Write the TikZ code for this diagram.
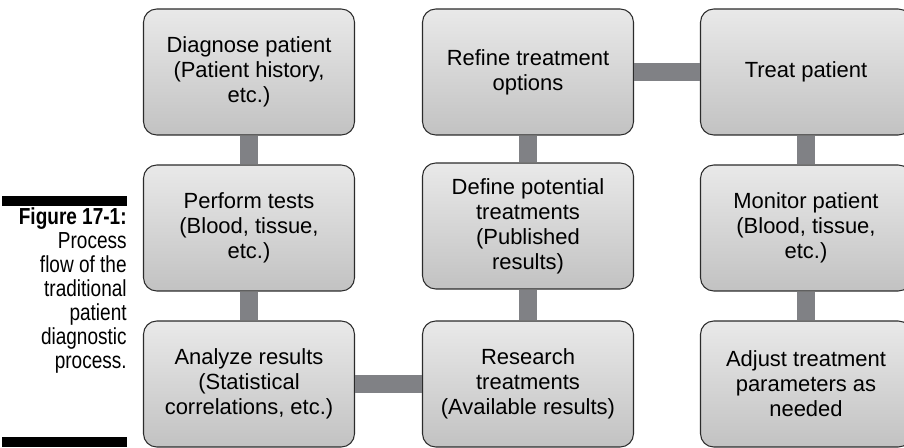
\documentclass[tikz,border=0pt]{standalone}
\usepackage{fontspec}
\setmainfont{Liberation Sans}
\newfontfamily\capfont[FakeStretch=0.82]{Liberation Sans}
\definecolor{linkgray}{HTML}{808185}
\definecolor{boxtop}{HTML}{E9E9E9}
\definecolor{boxbottom}{HTML}{C2C2C2}
\definecolor{boxline}{HTML}{2B2B2B}

\begin{document}
\begin{tikzpicture}[x=0.02cm,y=-0.02cm,
    stage/.style={draw=boxline,line width=0.6pt,rounded corners=7.5pt,
      top color=boxtop,bottom color=boxbottom,
      minimum width=4.22cm,minimum height=2.52cm,inner sep=0pt,
      align=center,font=\fontsize{12.5}{14.2}\selectfont},
    link/.style={linkgray,line width=10.2pt}]
                \useasboundingbox (0,0) rectangle (904,447);
                \clip (0,0) rectangle (904,447);
                % caption on the left
                \fill (2,196) rectangle (127,206);
                \fill (2,437) rectangle (127,447);
                \node[anchor=east,align=right,inner sep=0pt,font=\capfont\fontsize{13.2}{13.66}\selectfont] (caption) at (127,290) {\textbf{Figure 17-1:}\\Process\\flow of the\\traditional\\patient\\diagnostic\\process.};
                % process steps
                \node[stage] (diagnose) at (249,72) {Diagnose patient\\(Patient history,\\etc.)};
                \node[stage] (perform) at (249,228) {Perform tests\\(Blood, tissue,\\etc.)};
                \node[stage] (analyze) at (249,384) {Analyze results\\(Statistical\\correlations, etc.)};
                \node[stage] (research) at (528,384) {Research\\treatments\\(Available results)};
                \node[stage] (define) at (528,226) {Define potential\\treatments\\(Published\\results)};
                \node[stage] (refine) at (528,72) {Refine treatment\\options};
                \node[stage] (treat) at (806,72) {Treat patient};
                \node[stage] (monitor) at (806,228) {Monitor patient\\(Blood, tissue,\\etc.)};
                \node[stage] (adjust) at (806,384) {Adjust treatment\\parameters as\\needed};
                % links
                \draw[link] (diagnose) -- (perform);
                \draw[link] (perform) -- (analyze);
                \draw[link] (analyze) -- (research);
                \draw[link] (research) -- (define);
                \draw[link] (define) -- (refine);
                \draw[link] (refine) -- (treat);
                \draw[link] (treat) -- (monitor);
                \draw[link] (monitor) -- (adjust);
            \end{tikzpicture}
\end{document}
